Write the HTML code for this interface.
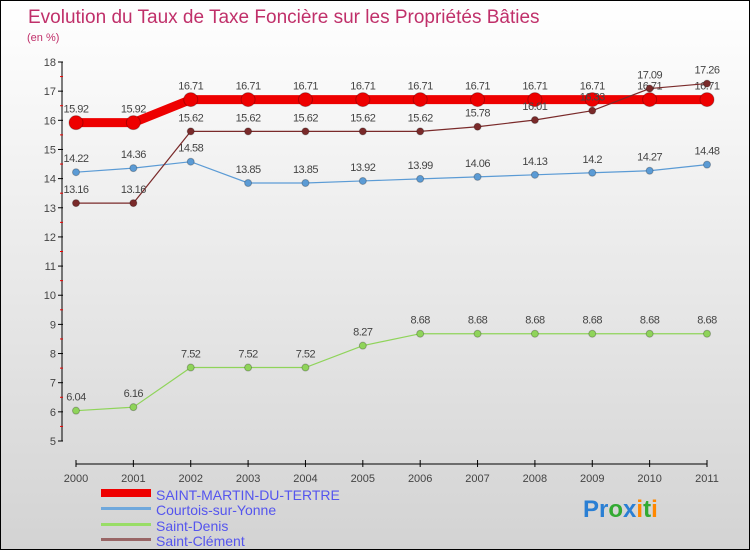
<!DOCTYPE html>
<html><head><meta charset="utf-8"><style>
body{margin:0}
#c{width:750px;height:550px;position:relative;box-sizing:border-box;border:1px solid #000;background:linear-gradient(#fff,#d3d3d3);font-family:"Liberation Sans",sans-serif;overflow:hidden}
svg text{font-family:"Liberation Sans",sans-serif}
</style></head><body>
<div id="c">
<svg id="s" width="750" height="550">
<text x="27" y="22" font-size="19" fill="#c0306a">Evolution du Taux de Taxe Foncière sur les Propriétés Bâties</text>
<text x="26" y="40" font-size="11" fill="#c0306a">(en %)</text>
<g id="legend">
<rect x="100" y="488" width="50" height="8" fill="#e00"/>
<text x="155" y="499" font-size="14" fill="#5555ee">SAINT-MARTIN-DU-TERTRE</text>
<rect x="100" y="506" width="50" height="3" fill="#6fa8dc"/>
<text x="155" y="514" font-size="14" fill="#5555ee">Courtois-sur-Yonne</text>
<rect x="100" y="522" width="50" height="3" fill="#99dd66"/>
<text x="155" y="530" font-size="14" fill="#5555ee">Saint-Denis</text>
<rect x="100" y="537" width="50" height="3" fill="#996666"/>
<text x="155" y="545" font-size="14" fill="#5555ee">Saint-Clément</text>
</g>
<text x="582" y="516" font-size="24" font-weight="bold"><tspan fill="#2a7fd4">Pr</tspan><tspan fill="#33aa33">o</tspan><tspan fill="#2a7fd4">x</tspan><tspan fill="#ff8800">i</tspan><tspan fill="#33aa33">t</tspan><tspan fill="#ff8800">i</tspan></text>
</svg>
</div>
<script>
const years=[2000,2001,2002,2003,2004,2005,2006,2007,2008,2009,2010,2011];
const yTicks=[5,6,7,8,9,10,11,12,13,14,15,16,17,18];
const smdt=[15.92,15.92,16.71,16.71,16.71,16.71,16.71,16.71,16.71,16.71,16.71,16.71];
const courtois=[14.22,14.36,14.58,13.85,13.85,13.92,13.99,14.06,14.13,14.2,14.27,14.48];
const denis=[6.04,6.16,7.52,7.52,7.52,8.27,8.68,8.68,8.68,8.68,8.68,8.68];
const clement=[13.16,13.16,15.62,15.62,15.62,15.62,15.62,15.78,16.01,16.33,17.09,17.26];
const NS="http://www.w3.org/2000/svg";
const s=document.getElementById('s');
const X=i=>75+i*(706-75)/(years.length-1);
const Y=v=>440-(v-5)*(379/13);
function mk(t,a,p){const e=document.createElementNS(NS,t);for(const k in a)e.setAttribute(k,a[k]);(p||s).appendChild(e);return e;}
const ax=mk('g',{});


mk('line',{x1:61,y1:Y(18),x2:61,y2:Y(5),stroke:'#000'},ax);
yTicks.forEach(v=>{
 mk('line',{x1:57,y1:Y(v),x2:62,y2:Y(v),stroke:'#000'},ax);
 if(v<18)mk('line',{x1:59,y1:Y(v+0.5),x2:62,y2:Y(v+0.5),stroke:'#e00'},ax);
 const t=mk('text',{x:55,y:Y(v)+4,'font-size':11,fill:'#444','text-anchor':'end'},ax);t.textContent=v;
 
 
});
mk('line',{x1:75,y1:463,x2:706,y2:463,stroke:'#000'},ax);
years.forEach((y,i)=>{
 mk('line',{x1:X(i),y1:459,x2:X(i),y2:466,stroke:'#000'},ax);
 const t=mk('text',{x:X(i),y:481,'font-size':11,fill:'#444','text-anchor':'middle'},ax);t.textContent=y;
 
 
});
function series(data,color,w,r,name){
 const g=mk('g',{});
 
 
 mk('polyline',{points:data.map((v,i)=>X(i)+','+Y(v)).join(' '),fill:'none',stroke:color,'stroke-width':w},g);
 data.forEach((v,i)=>{
  const c=mk('circle',{cx:X(i),cy:Y(v),r:r,fill:color,stroke:'rgba(0,0,0,0.25)'},g);
  
  
  const t=mk('text',{x:X(i),y:Y(v)-10,'font-size':11,fill:'#444','text-anchor':'middle','letter-spacing':'-0.5'},g);t.textContent=v;
  
  
 });
}
series(denis,'#8fd45a',1.2,3.5,'saint-denis');
series(courtois,'#5b9bd5',1.2,3.5,'courtois');
series(smdt,'#ee0000',9,7,'saint-martin');
series(clement,'#7a2a2a',1.2,3.5,'saint-clement');
</script>
</body></html>
